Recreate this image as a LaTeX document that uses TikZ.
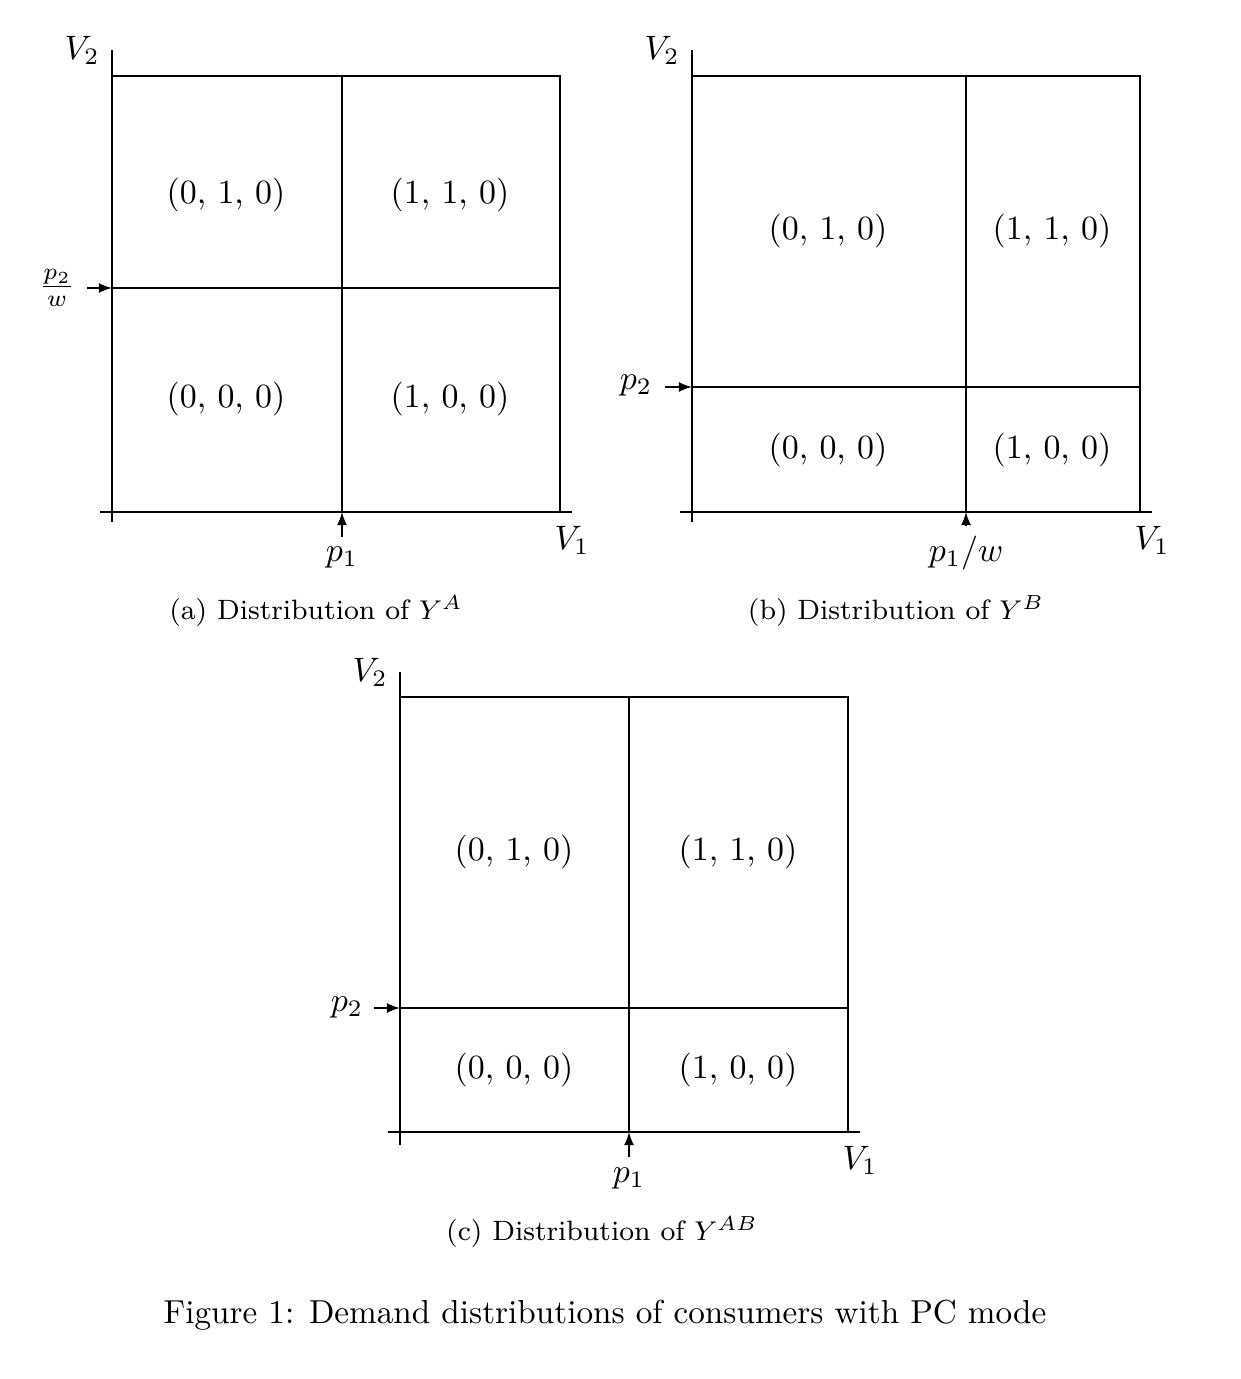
\documentclass[tikz,border=0pt]{standalone}
\usetikzlibrary{arrows}
\begin{document}
\begin{tikzpicture}[x=0.295pt,y=-0.295pt,
  ln/.style={line width=0.35pt},
  arr/.style={-latex,line width=0.35pt},
  cell/.style={inner sep=0pt},
  lab/.style={inner sep=0pt},
  subcap/.style={inner sep=0pt,font=\fontsize{8.25}{10}\selectfont}]
\useasboundingbox (0,0) rectangle (1240,1379);
% ---------- panel (a)
\draw[ln] (112,50) -- (112,522);
\draw[ln] (100,512) -- (572,512);
\draw[ln] (112,76) -- (560,76) -- (560,512);
\draw[ln] (342,76) -- (342,512);
\draw[ln] (112,288) -- (560,288);
\coordinate (aP2s) at (87,288); \coordinate (aP2e) at (112,288);
\draw[arr] (aP2s) -- (aP2e);
\coordinate (aP1s) at (342,537); \coordinate (aP1e) at (342,512);
\draw[arr] (aP1s) -- (aP1e);
\node[lab] (aV2) at (82,50) {$V_2$};
\node[lab] (aV1) at (572,540) {$V_1$};
\node[lab] (ap2) at (57,288) {$\frac{p_2}{w}$};
\node[lab] (ap1) at (342,557) {$p_1$};
\node[cell] (a010) at (226,195) {(0, 1, 0)};
\node[cell] (a110) at (450,195) {(1, 1, 0)};
\node[cell] (a000) at (226,399) {(0, 0, 0)};
\node[cell] (a100) at (450,399) {(1, 0, 0)};
\node[subcap] (capa) at (316,611) {(a) Distribution of $Y^A$};
% ---------- panel (b)
\draw[ln] (692,50) -- (692,522);
\draw[ln] (680,512) -- (1152,512);
\draw[ln] (692,76) -- (1140,76) -- (1140,512);
\draw[ln] (966,76) -- (966,512);
\draw[ln] (692,387) -- (1140,387);
\coordinate (bP2s) at (665,387); \coordinate (bP2e) at (692,387);
\draw[arr] (bP2s) -- (bP2e);
\coordinate (bP1s) at (966,526); \coordinate (bP1e) at (966,512);
\draw[arr] (bP1s) -- (bP1e);
\node[lab] (bV2) at (662,50) {$V_2$};
\node[lab] (bV1) at (1152,540) {$V_1$};
\node[lab] (bp2) at (636,385) {$p_2$};
\node[lab] (bp1) at (966,553) {$p_1/w$};
\node[cell] (b010) at (828,231) {(0, 1, 0)};
\node[cell] (b110) at (1052,231) {(1, 1, 0)};
\node[cell] (b000) at (828,450) {(0, 0, 0)};
\node[cell] (b100) at (1052,450) {(1, 0, 0)};
\node[subcap] (capb) at (896,611) {(b) Distribution of $Y^B$};
% ---------- panel (c)
\draw[ln] (400,672) -- (400,1145);
\draw[ln] (388,1132) -- (860,1132);
\draw[ln] (400,697) -- (848,697) -- (848,1132);
\draw[ln] (629,697) -- (629,1132);
\draw[ln] (400,1008) -- (848,1008);
\coordinate (cP2s) at (374,1008); \coordinate (cP2e) at (400,1008);
\draw[arr] (cP2s) -- (cP2e);
\coordinate (cP1s) at (629,1157); \coordinate (cP1e) at (629,1132);
\draw[arr] (cP1s) -- (cP1e);
\node[lab] (cV2) at (370,672) {$V_2$};
\node[lab] (cV1) at (860,1160) {$V_1$};
\node[lab] (cp2) at (347,1007) {$p_2$};
\node[lab] (cp1) at (629,1178) {$p_1$};
\node[cell] (c010) at (514,852) {(0, 1, 0)};
\node[cell] (c110) at (738,852) {(1, 1, 0)};
\node[cell] (c000) at (514,1070) {(0, 0, 0)};
\node[cell] (c100) at (738,1070) {(1, 0, 0)};
\node[subcap] (capc) at (602,1232) {(c) Distribution of $Y^{AB}$};
% ---------- caption
\node[inner sep=0pt,font=\fontsize{9.8}{12}\selectfont] (fig) at (605,1315) {Figure 1: Demand distributions of consumers with PC mode};
\end{tikzpicture}
\end{document}
